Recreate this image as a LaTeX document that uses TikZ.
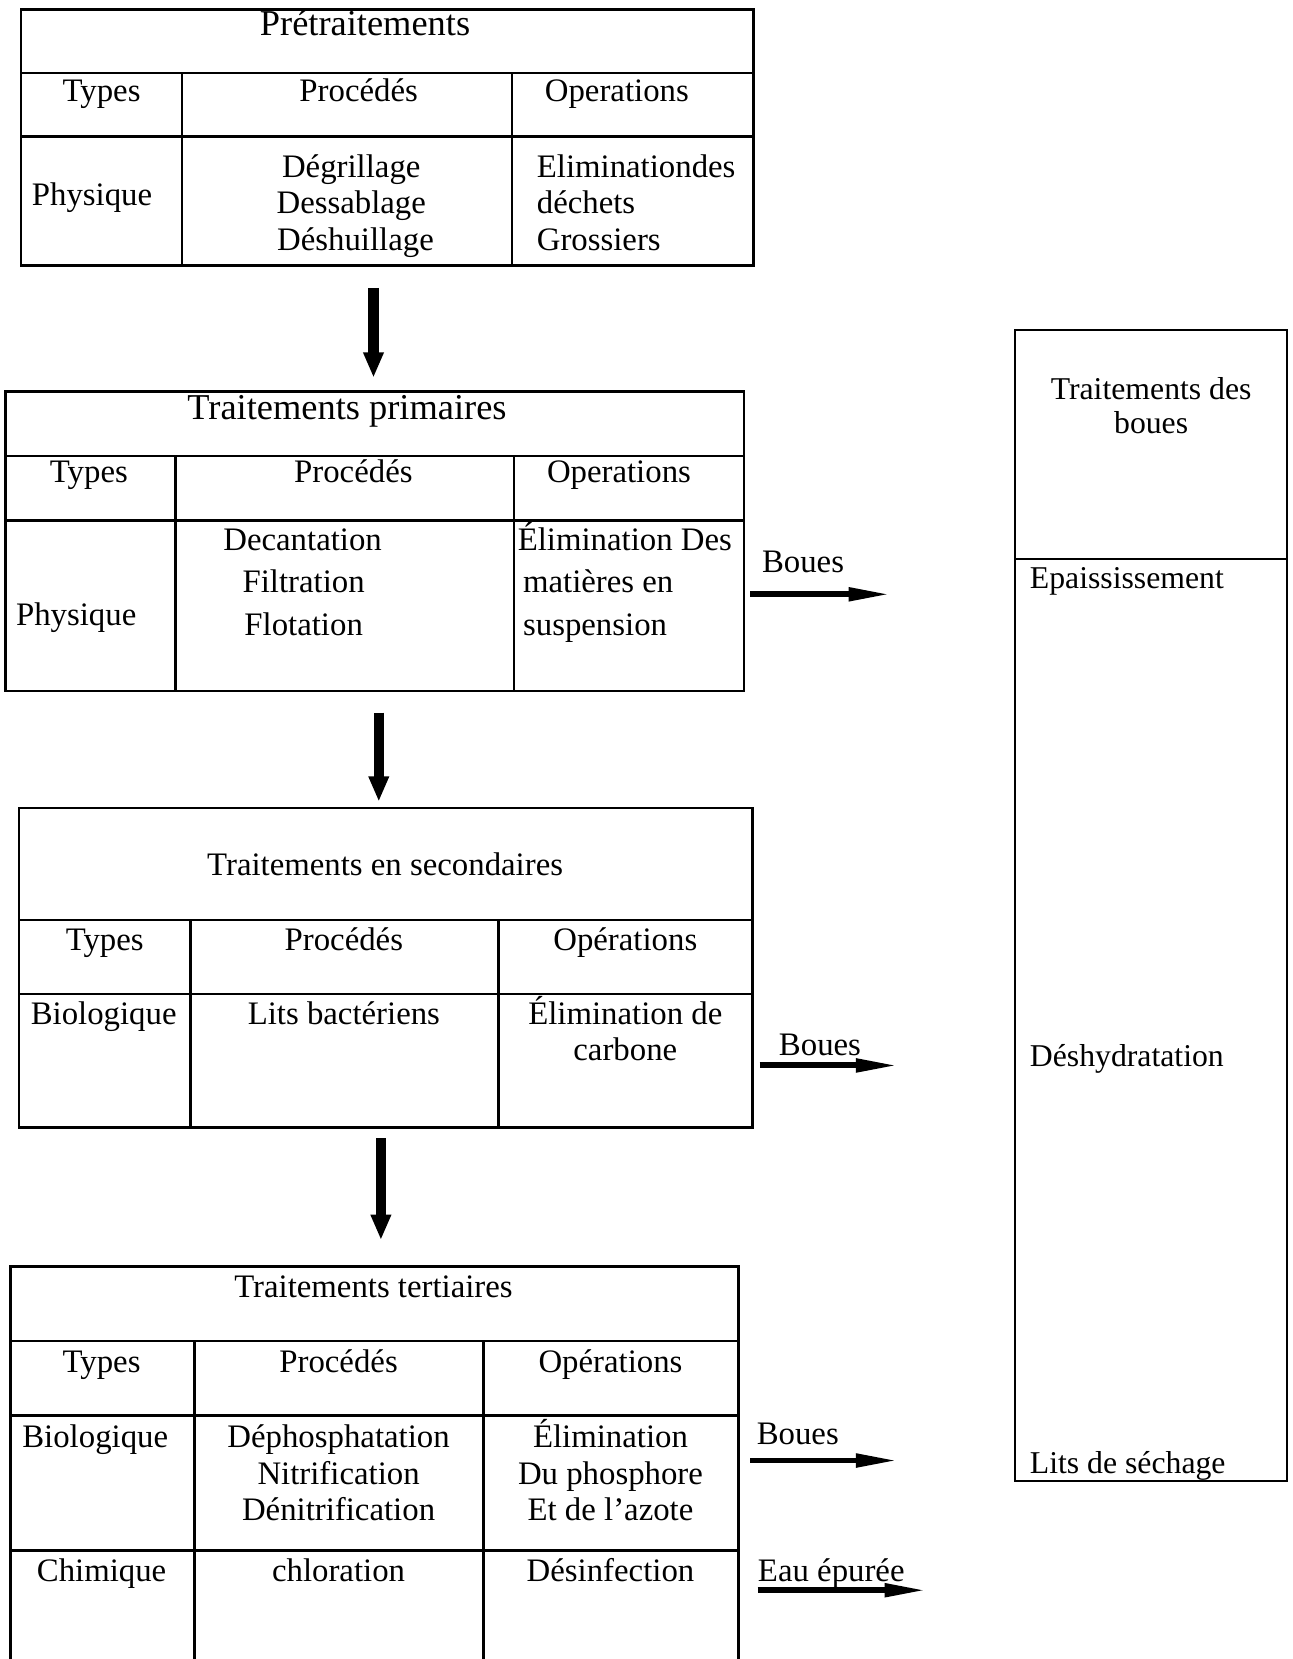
\documentclass[tikz,border=0pt]{standalone}
\usepackage{fontspec}
\setmainfont{Liberation Serif}
\usetikzlibrary{arrows.meta}
\begin{document}
\begin{tikzpicture}[x=0.5pt,y=-0.5pt,
  gridline/.style={line width=1.2pt},
  sidebox/.style={line width=1pt},
  lbl/.style={anchor=base, inner sep=0pt, yshift=-1pt, font=\fontsize{15.5}{18}\selectfont},
  lblw/.style={lbl, anchor=base west},
  bigtitle/.style={lbl, font=\fontsize{17.2}{20}\selectfont},
  rlbl/.style={anchor=base west, inner sep=0pt, yshift=-1pt, font=\fontsize{15}{18}\selectfont},
  rlblc/.style={rlbl, anchor=base},
  downarrow/.style={line width=4.75pt, -{Triangle[length=12pt,width=9pt]}},
  sidearrow/.style={line width=2.8pt, -{Triangle[length=20pt,width=6pt]}}]
\useasboundingbox (0,0) rectangle (1222,1568);

% ---------- Box 1 : Pretraitements ----------
\draw[gridline] (20,9) rectangle (712,251);
\draw[gridline] (20,69) -- (712,69) (20,129) -- (712,129);
\draw[gridline] (172,69) -- (172,251) (484,69) -- (484,251);
\node[bigtitle] (p-title) at (345,32) {Prétraitements};
\node[lbl] (p-types) at (96,93.6) {Types};
\node[lbl] (p-proc) at (339,93.6) {Procédés};
\node[lbl] (p-oper) at (583,93.6) {Operations};
\node[lbl] (p-phys) at (87,192) {Physique};
\node[lbl] (p-d1) at (332,165.4) {Dégrillage};
\node[lbl] (p-d2) at (332,200) {Dessablage};
\node[lbl] (p-d3) at (336,234.7) {Déshuillage};
\node[lblw] (p-o1) at (507,165.4) {Eliminationdes};
\node[lblw] (p-o2) at (507,200) {déchets};
\node[lblw] (p-o3) at (507,234.7) {Grossiers};

% ---------- Box 2 : Traitements primaires ----------
\draw[gridline] (5,370) rectangle (703,653);
\draw[gridline] (5,431) -- (703,431) (5,492) -- (703,492);
\draw[gridline] (166,431) -- (166,653) (486,431) -- (486,653);
\node[bigtitle] (q-title) at (328,394.4) {Traitements primaires};
\node[lbl] (q-types) at (84,453.6) {Types};
\node[lbl] (q-proc) at (334,453.6) {Procédés};
\node[lbl] (q-oper) at (585,453.6) {Operations};
\node[lbl] (q-phys) at (72,589) {Physique};
\node[lbl] (q-d1) at (286,518.2) {Decantation};
\node[lbl] (q-d2) at (287,558.2) {Filtration};
\node[lbl] (q-d3) at (287,598.6) {Flotation};
\node[lblw] (q-o1) at (489,518.2) {Élimination Des};
\node[lblw] (q-o2) at (494,558.2) {matières en};
\node[lblw] (q-o3) at (494,598.6) {suspension};
\node[lbl] (q-boues) at (759,538.7) {Boues};

% ---------- Box 3 : Traitements en secondaires ----------
\draw[gridline] (18,763.5) rectangle (711,1065.5);
\draw[gridline] (18,869.5) -- (711,869.5) (18,939.4) -- (711,939.4);
\draw[gridline] (180,869.5) -- (180,1065.5) (471,869.5) -- (471,1065.5);
\node[lbl] (s-title) at (364,825.4) {Traitements en secondaires};
\node[lbl] (s-types) at (99,896.3) {Types};
\node[lbl] (s-proc) at (325,896.3) {Procédés};
\node[lbl] (s-oper) at (591,896.3) {Opérations};
\node[lbl] (s-bio) at (98,966.5) {Biologique};
\node[lbl] (s-lits) at (325,966.5) {Lits bactériens};
\node[lbl] (s-o1) at (591,966.5) {Élimination de};
\node[lbl] (s-o2) at (591,1000.2) {carbone};
\node[lbl] (s-boues) at (775,995.5) {Boues};

% ---------- Box 4 : Traitements tertiaires ----------
\draw[gridline] (10,1568) -- (10,1197.1) -- (698,1197.1) -- (698,1568);
\draw[gridline] (10,1267.4) -- (698,1267.4) (10,1337.9) -- (698,1337.9) (10,1465.5) -- (698,1465.5);
\draw[gridline] (184,1267.4) -- (184,1568) (457,1267.4) -- (457,1568);
\node[lbl] (t-title) at (353,1223.9) {Traitements tertiaires};
\node[lbl] (t-types) at (96,1294.8) {Types};
\node[lbl] (t-proc) at (320,1294.8) {Procédés};
\node[lbl] (t-oper) at (577,1294.8) {Opérations};
\node[lbl] (t-bio) at (90,1365.7) {Biologique};
\node[lbl] (t-d1) at (320,1365.7) {Déphosphatation};
\node[lbl] (t-d2) at (320,1401.2) {Nitrification};
\node[lbl] (t-d3) at (320,1435) {Dénitrification};
\node[lbl] (t-o1) at (577,1365.7) {Élimination};
\node[lbl] (t-o2) at (577,1401.2) {Du phosphore};
\node[lbl] (t-o3) at (577,1435) {Et de l’azote};
\node[lbl] (t-chim) at (96,1492.6) {Chimique};
\node[lbl] (t-chlo) at (320,1492.6) {chloration};
\node[lbl] (t-des) at (577,1492.6) {Désinfection};
\node[lbl] (t-boues) at (754,1363.4) {Boues};
\node[lblw] (t-eau) at (716,1492.6) {Eau épurée};

% ---------- Right box : Traitements des boues ----------
\draw[sidebox] (959,312) rectangle (1216,1399.5);
\draw[sidebox] (959,528.6) -- (1216,528.6);
\node[rlblc] (r-t1) at (1088,375.5) {Traitements des};
\node[rlblc] (r-t2) at (1088,408) {boues};
\node[rlbl] (r-ep) at (973,554.4) {Epaississement};
\node[rlbl] (r-de) at (973,1006) {Déshydratation};
\node[rlbl] (r-li) at (973,1390.8) {Lits de séchage};

% ---------- Arrows ----------
\coordinate (a1s) at (353,272);  \coordinate (a1e) at (353,357);
\coordinate (a2s) at (358,673.5); \coordinate (a2e) at (358,757.7);
\coordinate (a3s) at (360,1076); \coordinate (a3e) at (360,1172);
\draw[downarrow] (a1s) -- (a1e);
\draw[downarrow] (a2s) -- (a2e);
\draw[downarrow] (a3s) -- (a3e);

\coordinate (h1s) at (709,561.7);  \coordinate (h1e) at (842,561.7);
\coordinate (h2s) at (718,1007);   \coordinate (h2e) at (849,1007);
\coordinate (h3s) at (709,1380.4); \coordinate (h3e) at (849,1380.4);
\coordinate (h4s) at (716,1503);   \coordinate (h4e) at (876,1503);
\draw[sidearrow] (h1s) -- (h1e);
\draw[sidearrow] (h2s) -- (h2e);
\draw[sidearrow] (h3s) -- (h3e);
\draw[sidearrow] (h4s) -- (h4e);
\end{tikzpicture}
\end{document}
